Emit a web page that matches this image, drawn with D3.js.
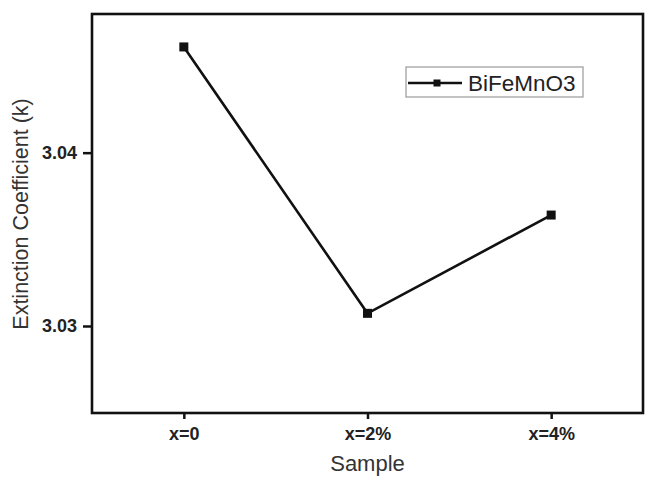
<!DOCTYPE html>
<html>
<head>
<meta charset="utf-8">
<script src="https://cdn.jsdelivr.net/npm/d3@7"></script>
<style>
  html, body { margin: 0; padding: 0; background: #fff; }
  svg { display: block; font-family: "Liberation Sans", Arial, sans-serif; }
</style>
</head>
<body>
<svg id="chart" width="645" height="477"></svg>
<script>
const categories = ["x=0", "x=2%", "x=4%"];
const values = [3.0461, 3.03073, 3.0364];
const yTicks = [3.03, 3.04];
const seriesName = "BiFeMnO3";
const xTitle = "Sample";
const yTitle = "Extinction Coefficient (k)";

const svg = d3.select("#chart");
const pLeft = 92, pRight = 643, pTop = 14, pBottom = 413;

const x = d3.scaleLinear().domain([-0.5, categories.length - 0.5]).range([pLeft, pRight]);
const y = d3.scaleLinear().domain([3.02498, 3.048]).range([pBottom, pTop]);

const ink = "#111";

// X axis
const xAxis = d3.axisBottom(x)
  .tickValues(categories.map((_, i) => i))
  .tickFormat(i => categories[i])
  .tickSize(6).tickPadding(8);
const gx = svg.append("g").attr("transform", `translate(0,${pBottom})`).call(xAxis);
gx.attr("font-size", 18).attr("font-family", "'Liberation Sans', Arial, sans-serif");
gx.select(".domain").remove();
gx.selectAll("line").attr("stroke", ink).attr("stroke-width", 2.5);
gx.selectAll("text").attr("font-weight", "bold").attr("fill", "#222");

// Y axis
const yAxis = d3.axisLeft(y).tickValues(yTicks).tickFormat(d3.format(".2f"))
  .tickSize(9).tickPadding(6);
const gy = svg.append("g").attr("transform", `translate(${pLeft},0)`).call(yAxis);
gy.attr("font-size", 18).attr("font-family", "'Liberation Sans', Arial, sans-serif");
gy.select(".domain").remove();
gy.selectAll("line").attr("stroke", ink).attr("stroke-width", 2.5);
gy.selectAll("text").attr("font-weight", "bold").attr("fill", "#222");

// Frame
svg.append("rect")
  .attr("x", pLeft).attr("y", pTop)
  .attr("width", pRight - pLeft).attr("height", pBottom - pTop)
  .attr("fill", "none").attr("stroke", ink).attr("stroke-width", 2.6);

// Line
const line = d3.line().x((d, i) => x(i)).y(d => y(d));
svg.append("path").datum(values)
  .attr("d", line).attr("fill", "none")
  .attr("stroke", ink).attr("stroke-width", 2.6).attr("stroke-linejoin", "miter");

// Markers
const ms = 9;
svg.selectAll("rect.pt").data(values).join("rect").attr("class", "pt")
  .attr("x", (d, i) => x(i) - ms / 2).attr("y", d => y(d) - ms / 2)
  .attr("width", ms).attr("height", ms).attr("fill", ink);

// Axis titles
svg.append("text").attr("x", (pLeft + pRight) / 2).attr("y", 471)
  .attr("text-anchor", "middle").attr("font-size", 22).attr("fill", "#333").text(xTitle);
svg.append("text")
  .attr("transform", `translate(28,${214}) rotate(-90)`)
  .attr("text-anchor", "middle").attr("font-size", 21.5).attr("fill", "#333").text(yTitle);

// Legend
const lg = svg.append("g");
lg.append("rect").attr("x", 406).attr("y", 67).attr("width", 177).attr("height", 30)
  .attr("fill", "#fff").attr("stroke", "#999").attr("stroke-width", 1.2);
lg.append("line").attr("x1", 408).attr("x2", 462).attr("y1", 83).attr("y2", 83)
  .attr("stroke", ink).attr("stroke-width", 2.6);
lg.append("rect").attr("x", 433.5).attr("y", 79.5).attr("width", 7).attr("height", 7).attr("fill", ink);
lg.append("text").attr("x", 468).attr("y", 91).attr("font-size", 22.5).attr("fill", "#222").text(seriesName);
</script>
</body>
</html>
